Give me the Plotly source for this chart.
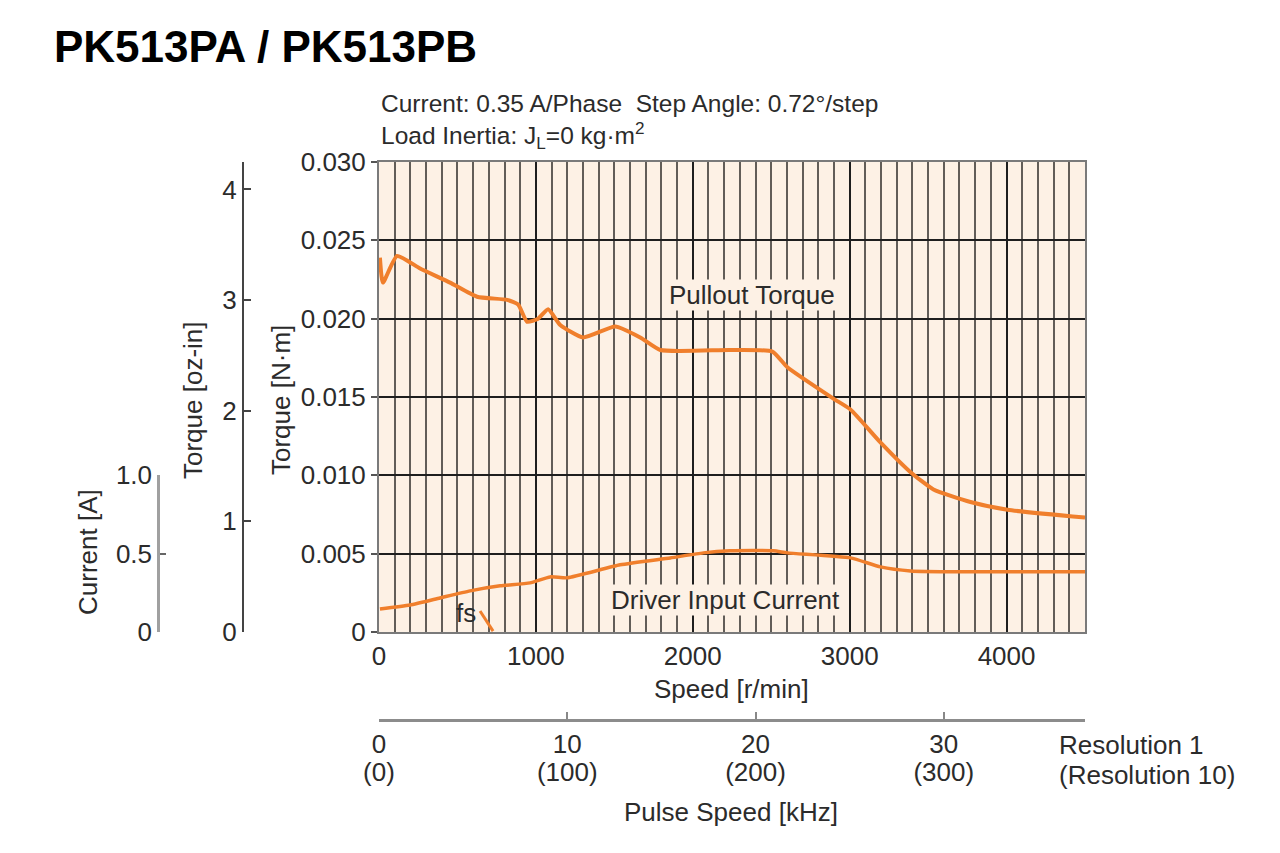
import plotly.graph_objects as go

# ---------------- data ----------------
pullout_speed = [6, 25, 115, 262, 453, 625, 817, 887, 944, 1014, 1078, 1155, 1301, 1506,
                 1665, 1793, 2239, 2507, 2603, 2896, 3005, 3196, 3388, 3534, 3770, 4006, 4500]
pullout_torque = [0.0239, 0.0223, 0.0240, 0.0232, 0.0223, 0.0214, 0.0212, 0.0209, 0.0198,
                  0.0200, 0.0206, 0.0196, 0.0188, 0.0195, 0.0188, 0.0180, 0.0180, 0.0179,
                  0.0169, 0.0149, 0.0142, 0.0121, 0.0102, 0.0091, 0.0083, 0.0078, 0.0073]

current_speed = [6, 198, 389, 581, 772, 963, 1091, 1199, 1537, 1856, 2067, 2239, 2514,
                 2603, 3005, 3196, 3388, 3707, 4500]
current_amp = [0.147, 0.172, 0.217, 0.262, 0.294, 0.313, 0.351, 0.345, 0.428, 0.472, 0.504,
               0.517, 0.517, 0.504, 0.472, 0.415, 0.389, 0.383, 0.383]

fs_speed = [644, 727]
fs_torque = [0.00134, 0.00006]

speed_ticks = [0, 1000, 2000, 3000, 4000]
torque_ticks = [0, 0.005, 0.010, 0.015, 0.020, 0.025, 0.030]
torque_labels = ["0", "0.005", "0.010", "0.015", "0.020", "0.025", "0.030"]
ozin_ticks = [0, 1, 2, 3, 4]
current_ticks = [0, 0.5, 1.0]
current_labels = ["0", "0.5", "1.0"]
pulse_ticks = [0, 10, 20, 30]
pulse_labels_res1 = ["0", "10", "20", "30"]
pulse_labels_res10 = ["(0)", "(100)", "(200)", "(300)"]

SPEED_MAX = 4500
TORQUE_MAX = 0.030
NM_PER_OZIN = 0.0070615518
RPM_PER_KHZ = 120.0  # 0.72 deg/step -> 500 steps/rev

# ---------------- layout helpers ----------------
PAGE_MARGIN = 8          # default body margin of the html page
W, H = 1280 - 2 * PAGE_MARGIN, 853 - 2 * PAGE_MARGIN
def px(x):
    return (x - PAGE_MARGIN) / W
def py(y):
    return 1 - (y - PAGE_MARGIN) / H

FONT = "Liberation Sans, Arial, sans-serif"
TXT = "#2b2b2b"
ORANGE = "#f07f2c"
BG = "#fdf1e5"
FS = 26

x_dom = [px(379), px(1085)]
y_dom = [py(632), py(162)]

fig = go.Figure()

fig.add_trace(go.Scatter(x=pullout_speed, y=pullout_torque, mode="lines",
                         line=dict(color=ORANGE, width=4, shape="spline", smoothing=0.5),
                         xaxis="x", yaxis="y", showlegend=False, hoverinfo="skip"))
fig.add_trace(go.Scatter(x=fs_speed, y=fs_torque, mode="lines",
                         line=dict(color=ORANGE, width=3),
                         xaxis="x", yaxis="y", showlegend=False, hoverinfo="skip"))
fig.add_trace(go.Scatter(x=current_speed, y=current_amp, mode="lines",
                         line=dict(color=ORANGE, width=3.5, shape="spline", smoothing=0.5),
                         xaxis="x4", yaxis="y3", showlegend=False, hoverinfo="skip"))
# dummy traces so the extra axes are drawn
fig.add_trace(go.Scatter(x=[None], y=[None], xaxis="x", yaxis="y2", showlegend=False, hoverinfo="skip"))
fig.add_trace(go.Scatter(x=[None], y=[None], xaxis="x2", yaxis="y", showlegend=False, hoverinfo="skip"))
fig.add_trace(go.Scatter(x=[None], y=[None], xaxis="x3", yaxis="y", showlegend=False, hoverinfo="skip"))

tickfont = dict(family=FONT, size=FS, color=TXT)

fig.update_layout(
    width=W, height=H,
    margin=dict(l=0, r=0, t=0, b=0),
    paper_bgcolor="white",
    plot_bgcolor="rgba(0,0,0,0)",
    font=dict(family=FONT, size=FS, color=TXT),
    xaxis=dict(domain=x_dom, anchor="y", range=[0, SPEED_MAX],
               tickvals=speed_ticks, ticks="", tickfont=tickfont,
               showgrid=True, gridcolor="#1e1e1e", gridwidth=2.2,
               minor=dict(dtick=100, tick0=0, showgrid=True, gridcolor="#625d58", gridwidth=2),
               showline=True, mirror=True, linecolor="#7a7a7a", linewidth=2,
               zeroline=False, automargin=False, fixedrange=True),
    yaxis=dict(domain=y_dom, anchor="x", range=[0, TORQUE_MAX],
               tickvals=torque_ticks, ticktext=torque_labels,
               ticks="outside", ticklen=6, tickwidth=2, tickcolor="#555",
               tickfont=tickfont,
               showgrid=True, gridcolor="#1e1e1e", gridwidth=2,
               showline=True, mirror=True, linecolor="#7a7a7a", linewidth=2,
               zeroline=False, automargin=False, fixedrange=True),
    yaxis2=dict(overlaying="y", anchor="free", position=px(243), side="left",
                range=[0, TORQUE_MAX / NM_PER_OZIN], tickvals=ozin_ticks,
                ticks="inside", ticklen=7, tickwidth=2, tickcolor="#444",
                tickfont=tickfont, showgrid=False, zeroline=False,
                showline=True, linecolor="#444", linewidth=2, automargin=False),
    yaxis3=dict(domain=[py(632), py(475)], anchor="free", position=px(158), side="left",
                range=[0, 1.0], tickvals=current_ticks, ticktext=current_labels,
                ticks="inside", ticklen=6, tickwidth=2, tickcolor="#666",
                tickfont=tickfont, showgrid=False, zeroline=False,
                showline=True, linecolor="#a0a0a0", linewidth=2.5, automargin=False),
    xaxis4=dict(domain=x_dom, anchor="y3", range=[0, SPEED_MAX], visible=False),
    xaxis2=dict(overlaying="x", anchor="free", position=py(720), side="bottom",
                range=[0, SPEED_MAX / RPM_PER_KHZ], tickvals=pulse_ticks, ticktext=pulse_labels_res1,
                ticks="inside", ticklen=7, tickwidth=2, tickcolor="#888",
                ticklabelstandoff=0,
                tickfont=tickfont, showgrid=False, zeroline=False,
                showline=True, linecolor="#8c8c8c", linewidth=3, automargin=False),
    xaxis3=dict(overlaying="x", anchor="free", position=py(754), side="bottom",
                range=[0, SPEED_MAX / RPM_PER_KHZ], tickvals=pulse_ticks, ticktext=pulse_labels_res10,
                ticks="", ticklabelstandoff=0, tickfont=tickfont, showgrid=False, zeroline=False,
                showline=False, automargin=False),
    shapes=[dict(type="rect", xref="x domain", yref="y domain", x0=0, x1=1, y0=0, y1=1,
                 fillcolor=BG, line=dict(width=0), layer="below")],
)

ann = []
def text(x, y, s, size=FS, xanchor="center", angle=0, bg=None, color=TXT, family=FONT, yanchor="middle"):
    d = dict(x=px(x), y=py(y), xref="paper", yref="paper", text=s, showarrow=False,
             xanchor=xanchor, yanchor=yanchor, textangle=angle,
             font=dict(family=family, size=size, color=color))
    if bg:
        d["bgcolor"] = bg
        d["borderpad"] = 0
    ann.append(d)

text(52, 47, "<b>PK513PA / PK513PB</b>", size=44, xanchor="left", color="#000000")
text(379, 103, "Current: 0.35 A/Phase\u00a0\u00a0Step Angle: 0.72°/step", size=24.5, xanchor="left")
text(379, 136, "Load Inertia: J<sub>L</sub>=0 kg·m<sup>2</sup>", size=24.5, xanchor="left")
text(731, 689, "Speed [r/min]")
text(731, 812, "Pulse Speed [kHz]")
text(1057, 745, "Resolution 1", xanchor="left")
text(1057, 775, "(Resolution 10)", xanchor="left")
text(281, 400, "Torque [N·m]", angle=-90)
text(193, 400, "Torque [oz-in]", angle=-90)
text(88, 552, "Current [A]", angle=-90)
text(752, 295, "Pullout Torque", bg=BG)
text(725, 600, "Driver Input Current", bg=BG)
text(466, 613, "fs")

fig.update_layout(annotations=ann)

fig.write_html("out.html")
